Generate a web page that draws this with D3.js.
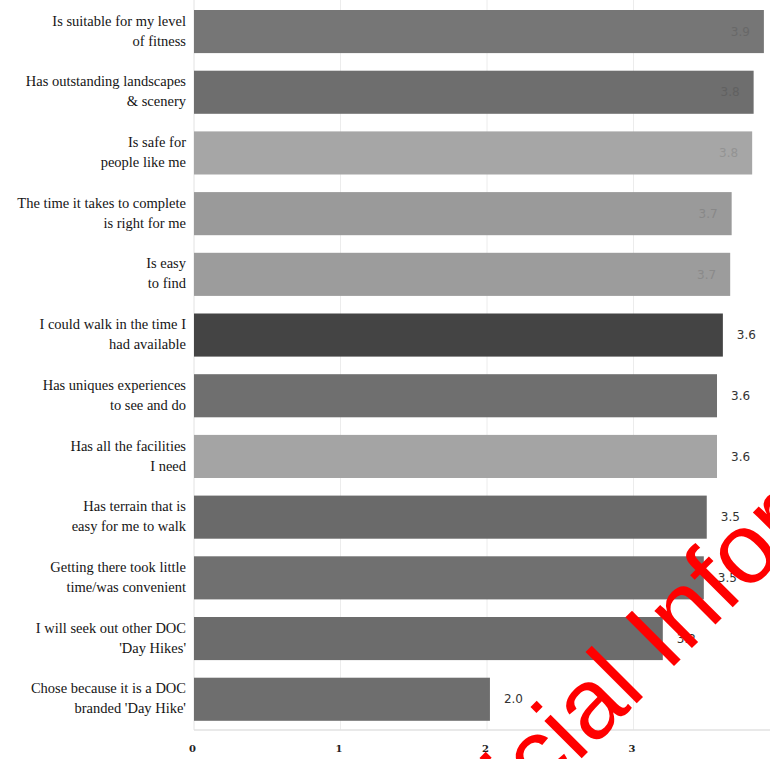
<!DOCTYPE html>
<html>
<head>
<meta charset="utf-8">
<script src="https://cdn.jsdelivr.net/npm/d3@7/dist/d3.min.js"></script>
<style>
  html, body { margin: 0; padding: 0; background: #ffffff; }
  svg { display: block; }
</style>
</head>
<body>
<script>
// ---- data ----
const categories = [
  "Is suitable for my level|of fitness",
  "Has outstanding landscapes|& scenery",
  "Is safe for|people like me",
  "The time it takes to complete|is right for me",
  "Is easy|to find",
  "I could walk in the time I|had available",
  "Has uniques experiences|to see and do",
  "Has all the facilities|I need",
  "Has terrain that is|easy for me to walk",
  "Getting there took little|time/was convenient",
  "I will seek out other DOC|'Day Hikes'",
  "Chose because it is a DOC|branded 'Day Hike'"
];
const values = [3.89, 3.82, 3.81, 3.67, 3.66, 3.61, 3.57, 3.57, 3.50, 3.48, 3.20, 2.02];
const barColors = ["#767676", "#6e6e6e", "#a6a6a6", "#9a9a9a", "#9c9c9c", "#444444",
                   "#6f6f6f", "#a4a4a4", "#6a6a6a", "#707070", "#6c6c6c", "#6e6e6e"];
const xTicks = [0, 1, 2, 3, 4];
const watermarkText = "Official Information";

// ---- layout ----
const W = 770, H = 759;
const svg = d3.select("body").append("svg").attr("width", W).attr("height", H);
svg.append("rect").attr("width", W).attr("height", H).attr("fill", "#fff");

const x = d3.scaleLinear().domain([0, 4]).range([194, 780]);
const y = d3.scaleBand().domain(categories).range([1.2, 729.6])
  .paddingInner(0.29).paddingOuter(0.145);
const axisY = 730;

// gridlines
svg.append("g").selectAll("line").data(xTicks.slice(1)).join("line")
  .attr("x1", d => x(d)).attr("x2", d => x(d))
  .attr("y1", 0).attr("y2", axisY)
  .attr("stroke", "#ececec").attr("stroke-width", 1);
svg.append("line").attr("x1", x(0)).attr("x2", x(0)).attr("y1", 0).attr("y2", axisY)
  .attr("stroke", "#e2e2e2");
svg.append("line").attr("x1", x(0)).attr("x2", W).attr("y1", axisY).attr("y2", axisY)
  .attr("stroke", "#e2e2e2").attr("stroke-width", 1.5);

// bars
const rows = categories.map((c, i) => ({ c, v: values[i], col: barColors[i] }));
svg.append("g").selectAll("rect").data(rows).join("rect")
  .attr("x", x(0)).attr("y", d => y(d.c))
  .attr("width", d => x(d.v) - x(0)).attr("height", y.bandwidth())
  .attr("fill", d => d.col);

// value labels
const fmt = d3.format(".1f");
const inside = d => d.v >= 3.65;
svg.append("g").selectAll("text").data(rows).join("text")
  .attr("x", d => inside(d) ? x(d.v) - 14 : x(d.v) + 14)
  .attr("text-anchor", d => inside(d) ? "end" : "start")
  .attr("y", d => y(d.c) + y.bandwidth() / 2)
  .attr("dy", "0.35em")
  .attr("font-family", "DejaVu Sans, sans-serif")
  .attr("font-size", 12)
  .attr("fill", d => inside(d) ? d3.color(d.col).darker(0.35) : "#333")
  .text(d => fmt(d.v));

// category labels
const lab = svg.append("g").selectAll("text").data(rows).join("text")
  .attr("font-family", "Liberation Serif, serif")
  .attr("font-size", 14.5)
  .attr("fill", "#151515")
  .attr("text-anchor", "end");
lab.each(function(d) {
  const parts = d.c.split("|");
  const cy = y(d.c) + y.bandwidth() / 2;
  const t = d3.select(this);
  parts.forEach((p, k) => {
    t.append("tspan").attr("x", 186)
      .attr("y", cy + (k === 0 ? -11 : 9))
      .attr("dy", "0.35em")
      .text(p);
  });
});

// x axis tick labels
const xAxis = d3.axisBottom(x).tickValues(xTicks).tickSize(0).tickFormat(d3.format("d"));
const gx = svg.append("g").attr("transform", `translate(-2,${axisY + 12})`).call(xAxis);
gx.select(".domain").remove();
gx.selectAll("text").attr("font-family", "DejaVu Serif, serif").attr("font-size", 10)
  .attr("font-weight", "bold").attr("fill", "#222");

// watermark
svg.append("text")
  .attr("transform", "translate(433,907) rotate(-45)")
  .attr("font-family", "Liberation Sans, Arial, sans-serif")
  .attr("font-size", 100)
  .attr("fill", "#ff0000")
  .text(watermarkText);
</script>
</body>
</html>
